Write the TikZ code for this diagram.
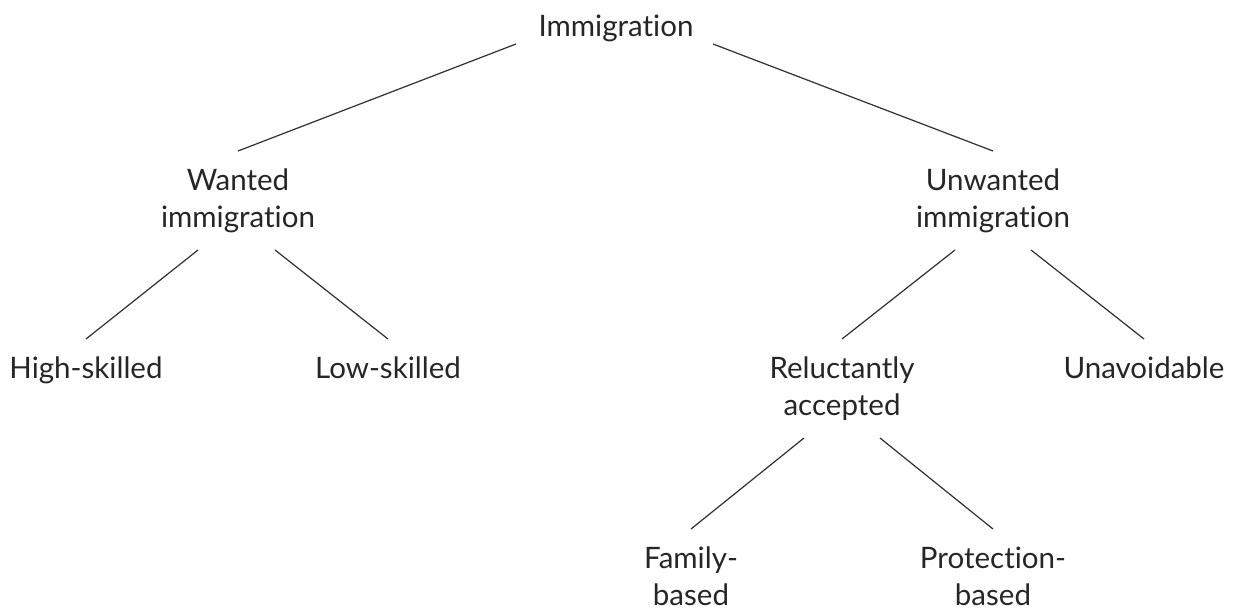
\documentclass[tikz,border=0pt]{standalone}
\usepackage{fontspec}
\setmainfont{Lato}[Ligatures=NoCommon]
\usetikzlibrary{positioning}
\tikzset{
	label/.style={anchor=base, inner sep=0pt, align=center, text=black!85,
			font=\fontsize{16.8}{21}\selectfont},
	branch/.style={draw=black!80, line width=0.7pt}
}

\begin{document}
\begin{tikzpicture}[x=0.02cm, y=-0.02cm]
        \useasboundingbox (0,0) rectangle (1234,608);

        % Top level
        \node[label] (imm) at (616,37) {Immigration};

        % Second level (base = last line)
        \node[label] (wanted) at (238,227) {Wanted\\immigration};
        \node[label] (unwanted) at (993,227) {Unwanted\\immigration};

        % Third level
        \node[label] (high) at (86,378) {High-skilled};
        \node[label] (low) at (388,378) {Low-skilled};
        \node[label] (reluct) at (842,415) {Reluctantly\\accepted};
        \node[label] (unav) at (1144,378) {Unavoidable};

        % Fourth level
        \node[label] (family) at (691,605) {Family-\\based};
        \node[label] (protect) at (993,605) {Protection-\\based};

        % Branches
        \draw[branch] ([shift={(-100,7)}]imm.base) -- ([shift={(0,-76)}]wanted.base);
        \draw[branch] ([shift={(97,7)}]imm.base) -- ([shift={(0,-76)}]unwanted.base);
        \draw[branch] ([shift={(-40,23)}]wanted.base) -- ([shift={(0,-39)}]high.base);
        \draw[branch] ([shift={(37,23)}]wanted.base) -- ([shift={(0,-39)}]low.base);
        \draw[branch] ([shift={(-38,23)}]unwanted.base) -- ([shift={(0,-76)}]reluct.base);
        \draw[branch] ([shift={(38,23)}]unwanted.base) -- ([shift={(0,-39)}]unav.base);
        \draw[branch] ([shift={(-38,23)}]reluct.base) -- ([shift={(0,-76)}]family.base);
        \draw[branch] ([shift={(38,23)}]reluct.base) -- ([shift={(0,-76)}]protect.base);

\end{tikzpicture}
\end{document}
